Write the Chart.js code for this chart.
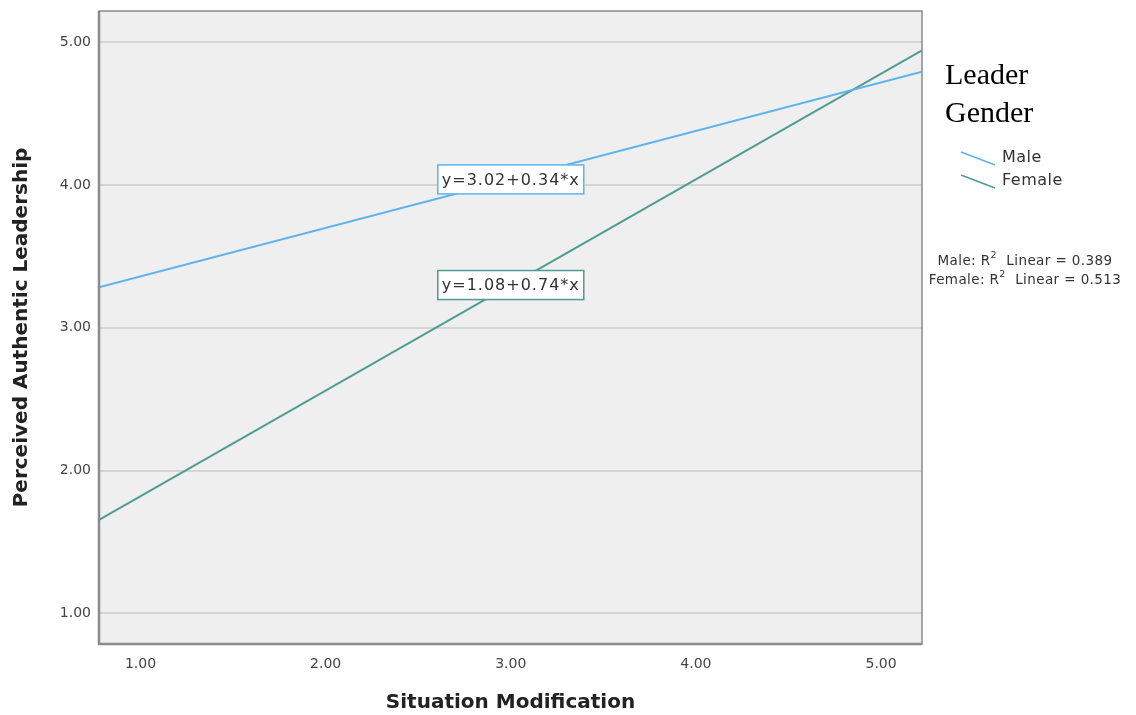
<!DOCTYPE html>
<html>
<head>
<meta charset="utf-8">
<script src="https://cdn.jsdelivr.net/npm/chart.js@4"></script>
<style>
  html, body { margin: 0; padding: 0; background: #fff; }
  #wrap { width: 1136px; height: 715px; position: relative; }
</style>
</head>
<body>
<div id="wrap"><canvas id="grafico" width="1136" height="715"></canvas></div>
<script>
// Dados
const serieNomes = ["Male", "Female"];
const maleX = [0.776, 5.221];
const maleY = [3.284, 4.795];
const femaleX = [0.776, 5.221];
const femaleY = [1.654, 4.944];
const equacoes = ["y=3.02+0.34*x", "y=1.08+0.74*x"];
const rotuloX = [3.0, 3.0];
const rotuloY = [4.04, 3.30];
const r2Valores = ["0.389", "0.513"];
const ticksX = [1, 2, 3, 4, 5];
const ticksY = [1, 2, 3, 4, 5];

const corMale = "#5fb3ec";
const corFemale = "#4f9b92";
const cores = [corMale, corFemale];

function pontos(xs, ys) {
  return xs.map((x, i) => ({ x: x, y: ys[i] }));
}

// Fundo cinza da área do gráfico
const fundoPlot = {
  id: "fundoPlot",
  beforeDraw(chart) {
    const { ctx, chartArea: a } = chart;
    ctx.save();
    ctx.fillStyle = "#efefef";
    ctx.fillRect(a.left, a.top, a.right - a.left, a.bottom - a.top);
    ctx.restore();
  }
};

// Texto "Nome: R² Linear = valor" com o 2 sobrescrito, centrado em cx
function textoR2(ctx, nome, valor, cx, cy) {
  const f1 = "13.5px 'DejaVu Sans'", f2 = "9.5px 'DejaVu Sans'";
  const p1 = nome + ": R", p2 = "2", p3 = "  Linear = " + valor;
  ctx.font = f1;
  const w1 = ctx.measureText(p1).width, w3 = ctx.measureText(p3).width;
  ctx.font = f2;
  const w2 = ctx.measureText(p2).width;
  let x = cx - (w1 + w2 + w3) / 2;
  ctx.textAlign = "left";
  ctx.font = f1; ctx.fillText(p1, x, cy); x += w1;
  ctx.font = f2; ctx.fillText(p2, x, cy - 5); x += w2;
  ctx.font = f1; ctx.fillText(p3, x, cy);
}

// Moldura, caixas das equações, legenda e R²
const extras = {
  id: "extras",
  afterDatasetsDraw(chart) {
    const { ctx, chartArea: a, scales } = chart;
    ctx.save();
    // moldura
    ctx.strokeStyle = "#8a8a8a";
    ctx.lineWidth = 1.5;
    ctx.strokeRect(a.left, a.top, a.right - a.left, a.bottom - a.top);
    ctx.lineWidth = 2.5;
    ctx.beginPath();
    ctx.moveTo(a.left, a.top);
    ctx.lineTo(a.left, a.bottom);
    ctx.lineTo(a.right, a.bottom);
    ctx.stroke();

    // caixas das equações
    ctx.font = "16px 'DejaVu Sans'";
    ctx.letterSpacing = "1px";
    ctx.textAlign = "center";
    ctx.textBaseline = "middle";
    equacoes.forEach((txt, i) => {
      const cx = scales.x.getPixelForValue(rotuloX[i]);
      const cy = scales.y.getPixelForValue(rotuloY[i]);
      const w = 146, h = 29;
      ctx.fillStyle = "#fff";
      ctx.fillRect(cx - w / 2, cy - h / 2, w, h);
      ctx.strokeStyle = cores[i];
      ctx.lineWidth = 1.5;
      ctx.strokeRect(cx - w / 2, cy - h / 2, w, h);
      ctx.fillStyle = "#333";
      ctx.fillText(txt, cx, cy + 1);
    });
    ctx.letterSpacing = "0px";

    // legenda
    ctx.fillStyle = "#000";
    ctx.textAlign = "left";
    ctx.textBaseline = "alphabetic";
    ctx.font = "30px 'Liberation Serif'";
    ctx.fillText("Leader", 945, 84);
    ctx.fillText("Gender", 945, 122);

    ctx.font = "16px 'DejaVu Sans'";
    ctx.letterSpacing = "0.5px";
    ctx.textBaseline = "middle";
    serieNomes.forEach((nome, i) => {
      const y0 = 152 + i * 23;
      ctx.strokeStyle = cores[i];
      ctx.lineWidth = 1.5;
      ctx.beginPath();
      ctx.moveTo(961, y0);
      ctx.lineTo(995, y0 + 13);
      ctx.stroke();
      ctx.fillStyle = "#333";
      ctx.fillText(nome, 1002, y0 + 6);
    });

    // R²
    ctx.letterSpacing = "0.4px";
    ctx.fillStyle = "#333";
    serieNomes.forEach((nome, i) => {
      textoR2(ctx, nome, r2Valores[i], 1025, 261 + i * 19);
    });
    ctx.restore();
  }
};

new Chart(document.getElementById("grafico"), {
  type: "scatter",
  data: {
    datasets: [
      { label: serieNomes[0], data: pontos(maleX, maleY), showLine: true, borderColor: corMale, borderWidth: 2, pointRadius: 0 },
      { label: serieNomes[1], data: pontos(femaleX, femaleY), showLine: true, borderColor: corFemale, borderWidth: 2, pointRadius: 0 }
    ]
  },
  options: {
    responsive: false,
    animation: false,
    layout: { padding: { left: 10, top: 11, right: 214, bottom: 0 } },
    plugins: { legend: { display: false }, tooltip: { enabled: false } },
    scales: {
      x: {
        type: "linear",
        min: 0.776,
        max: 5.221,
        afterBuildTicks(s) { s.ticks = ticksX.map(v => ({ value: v })); },
        afterFit(s) { s.height = 71; s.paddingLeft = 0; s.paddingRight = 0; },
        grid: { display: false, drawTicks: false },
        border: { display: false },
        ticks: {
          padding: 12,
          color: "#444",
          font: { family: "'DejaVu Sans'", size: 14 },
          callback: v => v.toFixed(2)
        },
        title: {
          display: true,
          text: "Situation Modification",
          color: "#222",
          font: { family: "'DejaVu Sans'", size: 20, weight: "bold" },
          padding: { top: 8, bottom: 0 }
        }
      },
      y: {
        type: "linear",
        min: 0.785,
        max: 5.22,
        afterBuildTicks(s) { s.ticks = ticksY.map(v => ({ value: v })); },
        afterFit(s) { s.width = 89; s.paddingTop = 0; s.paddingBottom = 0; },
        grid: { color: "#d4d4d4", lineWidth: 2, drawTicks: false },
        border: { display: false },
        ticks: {
          padding: 8,
          color: "#444",
          font: { family: "'DejaVu Sans'", size: 14 },
          callback: v => v.toFixed(2)
        },
        title: {
          display: true,
          text: "Perceived Authentic Leadership",
          color: "#222",
          font: { family: "'DejaVu Sans'", size: 20, weight: "bold" },
          padding: { top: 0, bottom: 0 }
        }
      }
    }
  },
  plugins: [fundoPlot, extras]
});
</script>
</body>
</html>
